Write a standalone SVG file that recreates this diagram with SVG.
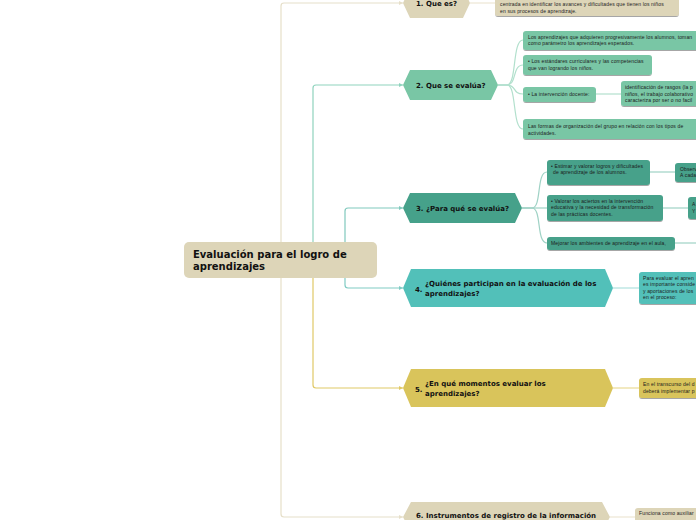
<svg xmlns="http://www.w3.org/2000/svg" width="696" height="520" viewBox="0 0 696 520">
<defs>
<style>
.t{font-family:"DejaVu Sans",Verdana,sans-serif;font-weight:bold;fill:#111;}
.s{font-family:"Liberation Sans",Arial,sans-serif;font-size:5px;letter-spacing:0.15px;fill:#1b1b1b;}
.c{fill:none;stroke-width:1.2;}
.box{filter:url(#sh);}
</style>
<filter id="sh" x="-10%" y="-20%" width="120%" height="160%">
<feDropShadow dx="0" dy="1" stdDeviation="0.7" flood-color="#000" flood-opacity="0.35"/>
</filter>
<marker id="ab" markerWidth="4" markerHeight="4" refX="4" refY="2" orient="auto" markerUnits="userSpaceOnUse">
<path d="M0,0 L4,2 L0,4 z" fill="context-stroke"/>
</marker>
</defs>
<rect width="696" height="520" fill="#ffffff"/>

<g id="connectors">
<path class="c" stroke="#e6dfc9" d="M281,260 V6 Q281,3 284,3 H403" marker-end="url(#ab)"/>
<path class="c" stroke="#e6dfc9" d="M281,260 V514 Q281,517 284,517 H403" marker-end="url(#ab)"/>
<path class="c" stroke="#8fd3bd" d="M313,260 V88 Q313,85 316,85 H403" marker-end="url(#ab)"/>
<path class="c" stroke="#e0c967" d="M313,260 V385 Q313,388 316,388 H403" marker-end="url(#ab)"/>
<path class="c" stroke="#80c9bd" d="M345,260 V211 Q345,208 348,208 H403" marker-end="url(#ab)"/>
<path class="c" stroke="#80cbc4" d="M345,260 V285 Q345,288 348,288 H403" marker-end="url(#ab)"/>

<path class="c" stroke="#ece6d4" d="M470,3 H495"/>
<path class="c" stroke="#b2e0cd" d="M498,85 H507 C517,85 512,40 523,40"/>
<path class="c" stroke="#b2e0cd" d="M498,85 H507 C517,85 512,65 523,65"/>
<path class="c" stroke="#b2e0cd" d="M498,85 H507 C517,85 512,94 523,94"/>
<path class="c" stroke="#b2e0cd" d="M498,85 H507 C517,85 512,129 523,129"/>
<path class="c" stroke="#b2e0cd" d="M596,94 H621"/>

<path class="c" stroke="#9fd2c5" d="M522,208 H532 C542,208 536,172 547,172"/>
<path class="c" stroke="#9fd2c5" d="M522,208 H547"/>
<path class="c" stroke="#9fd2c5" d="M522,208 H532 C542,208 536,243 547,243"/>
<path class="c" stroke="#9fd2c5" d="M650,172 H675"/>
<path class="c" stroke="#9fd2c5" d="M663,208 H688"/>
<path class="c" stroke="#9fd2c5" d="M675,243 H696"/>

<path class="c" stroke="#b0e2de" d="M613,288 H639"/>
<path class="c" stroke="#eadb96" d="M613,388 H639"/>
<path class="c" stroke="#ece6d4" d="M610,517 H635"/>
</g>

<g id="root">
<rect x="184" y="242" width="193" height="36" rx="5" fill="#ddd5b8"/>
<text class="t" font-size="10" x="193" y="258">Evaluación para el logro de</text>
<text class="t" font-size="10" x="193" y="270">aprendizajes</text>
</g>

<g id="n1">
<polygon points="403,3 410,-12 463,-12 470,3 463,18 410,18" fill="#ddd5b8"/>
<text class="t" font-size="7" x="416" y="6">1. Que es?</text>
</g>
<g id="n1a">
<rect class="box" x="495" y="-10" width="184" height="26" rx="3" fill="#ddd5b8"/>
<text class="s" x="500" y="6">centrada en identificar los avances y dificultades que tienen los niños</text>
<text class="s" x="500" y="12.5">en sus procesos de aprendizaje.</text>
</g>

<g id="n2">
<polygon points="403,85 410,70 491,70 498,85 491,100 410,100" fill="#79c6a5"/>
<text class="t" font-size="7" x="416" y="88">2. Que se evalúa?</text>
</g>
<g id="n2a">
<rect class="box" x="523" y="31" width="185" height="19" rx="3" fill="#79c6a5"/>
<text class="s" x="528" y="38.5">Los aprendizajes que adquieren progresivamente los alumnos, toman</text>
<text class="s" x="528" y="45">como parámetro los aprendizajes esperados.</text>
</g>
<g id="n2b">
<rect class="box" x="523" y="55" width="129" height="20" rx="3" fill="#79c6a5"/>
<text class="s" x="528" y="63">• Los estándares curriculares y las competencias</text>
<text class="s" x="528" y="69.5">que van logrando los niños.</text>
</g>
<g id="n2c">
<rect class="box" x="523" y="87" width="73" height="15" rx="3" fill="#79c6a5"/>
<text class="s" x="528" y="96">• La intervención docente:</text>
</g>
<g id="n2c1">
<rect class="box" x="621" y="81" width="90" height="25" rx="3" fill="#79c6a5"/>
<text class="s" x="625" y="89">identificación de rasgos  (la p</text>
<text class="s" x="625" y="95.5">niños, el trabajo colaborativo</text>
<text class="s" x="625" y="102">caracteriza por ser o no facil</text>
</g>
<g id="n2d">
<rect class="box" x="523" y="119" width="185" height="20" rx="3" fill="#79c6a5"/>
<text class="s" x="528" y="128">Las formas de organización del grupo en relación con los tipos de</text>
<text class="s" x="528" y="134.5">actividades.</text>
</g>

<g id="n3">
<polygon points="403,208 410,193 515,193 522,208 515,223 410,223" fill="#46a18a"/>
<text class="t" font-size="7" x="416" y="211">3. ¿Para qué se evalúa?</text>
</g>
<g id="n3a">
<rect class="box" x="547" y="160" width="103" height="25" rx="3" fill="#46a18a"/>
<text class="s" x="551" y="167.5">• Estimar y valorar logros y dificultades</text>
<text class="s" x="553" y="174">de aprendizaje de los alumnos.</text>
</g>
<g id="n3a1">
<rect class="box" x="675" y="163" width="40" height="19" rx="3" fill="#46a18a"/>
<text class="s" x="680" y="170.5">Observ</text>
<text class="s" x="680" y="177">A cada</text>
</g>
<g id="n3b">
<rect class="box" x="547" y="195" width="116" height="26" rx="3" fill="#46a18a"/>
<text class="s" x="551" y="202.5">• Valorar los aciertos en la intervención</text>
<text class="s" x="551" y="209">educativa y la necesidad de transformación</text>
<text class="s" x="551" y="215.5">de las prácticas docentes.</text>
</g>
<g id="n3b1">
<rect class="box" x="688" y="197" width="30" height="22" rx="3" fill="#46a18a"/>
<text class="s" x="692" y="206">A</text>
<text class="s" x="692" y="212.5">Y</text>
</g>
<g id="n3c">
<rect class="box" x="547" y="237" width="128" height="13" rx="3" fill="#46a18a"/>
<text class="s" x="551" y="245">Mejorar los ambientes de aprendizaje en el aula,</text>
</g>

<g id="n4">
<polygon points="403,288 411,269 605,269 613,288 605,307 411,307" fill="#52c0b9"/>
<text class="t" font-size="7" x="415" y="291.5">4.</text>
<text class="t" font-size="7" x="425" y="286">¿Quiénes participan en la evaluación de los</text>
<text class="t" font-size="7" x="425" y="296">aprendizajes?</text>
</g>
<g id="n4a">
<rect class="box" x="639" y="272" width="70" height="32" rx="3" fill="#52c0b9"/>
<text class="s" x="643" y="279.5">Para evaluar el apren</text>
<text class="s" x="643" y="286">es importante conside</text>
<text class="s" x="643" y="292.5">y aportaciones de los</text>
<text class="s" x="643" y="299"> en el proceso:</text>
</g>

<g id="n5">
<polygon points="403,388 411,369 605,369 613,388 605,407 411,407" fill="#d9c45b"/>
<text class="t" font-size="7" x="415" y="391.5">5.</text>
<text class="t" font-size="7" x="425" y="386">¿En qué momentos evaluar los</text>
<text class="t" font-size="7" x="425" y="396">aprendizajes?</text>
</g>
<g id="n5a">
<rect class="box" x="639" y="378" width="70" height="20" rx="3" fill="#d9c45b"/>
<text class="s" x="643" y="386">En el transcurso del d</text>
<text class="s" x="643" y="392.5">deberá implementar p</text>
</g>

<g id="n6">
<polygon points="403,517 411,502 602,502 610,517 602,532 411,532" fill="#ddd5b8"/>
<text class="t" font-size="7" x="416" y="518">6.  Instrumentos de registro de la información</text>
</g>
<g id="n6a">
<rect class="box" x="635" y="508" width="70" height="20" rx="3" fill="#ddd5b8"/>
<text class="s" x="639" y="515">Funciona como auxiliar</text>
</g>
</svg>
